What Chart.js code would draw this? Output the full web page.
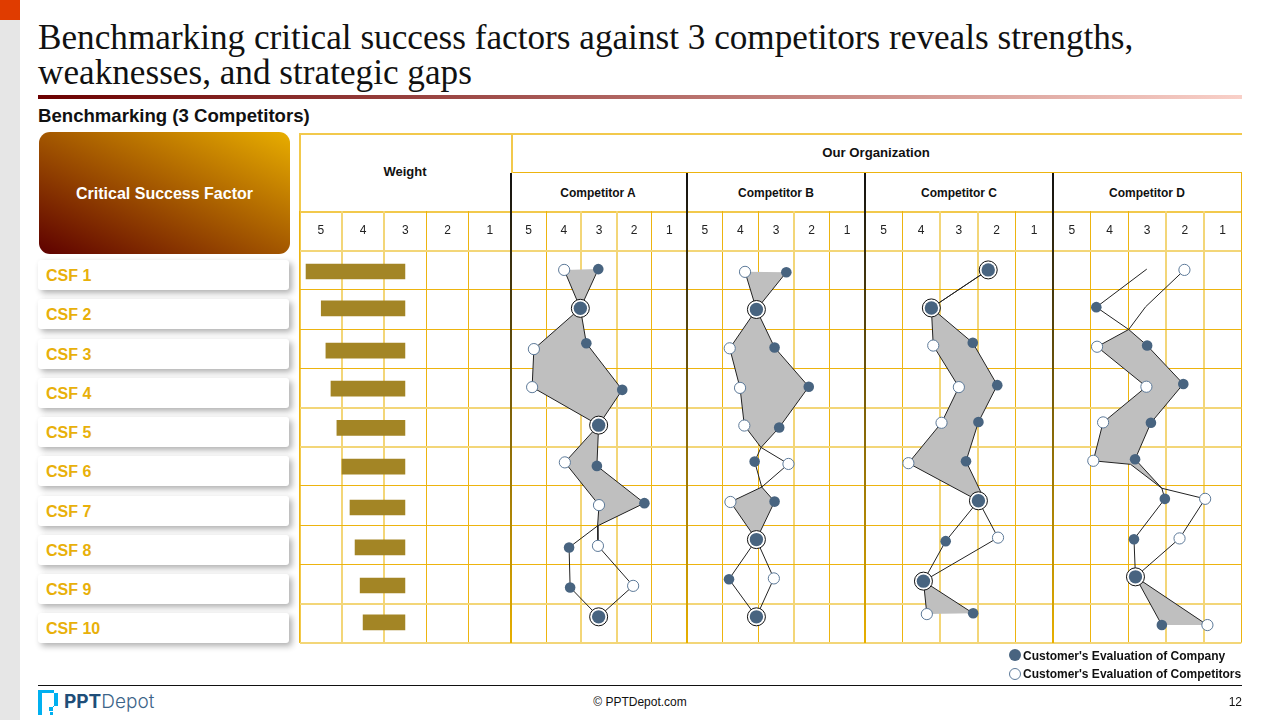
<!DOCTYPE html>
<html>
<head>
<meta charset="utf-8">
<script src="https://cdn.jsdelivr.net/npm/chart.js@4"></script>
<style>
  html, body { margin: 0; padding: 0; background: #fff; }
  body { position: relative; width: 1280px; height: 720px; overflow: hidden; font-family: "Liberation Sans", Arial, sans-serif; color: #111; }
  .abs { position: absolute; }
  .side { left: 0; top: 0; width: 20px; height: 720px; background: #e6e6e6; }
  .corner { left: 0; top: 0; width: 20px; height: 20px; background: #e03c00; }
  .title { left: 38px; top: 20px; width: 1210px; font: 35.2px/35px "Liberation Serif", serif; color: #111; white-space: nowrap; }
  .rule { left: 38px; top: 95px; width: 1204px; height: 4px; background: linear-gradient(90deg, #6b0000, #f9d0c8); }
  .sub { left: 38px; top: 105px; font: bold 18.6px/22px "Liberation Sans", sans-serif; }
  .csf-head { left: 39px; top: 132px; width: 251px; height: 122px; border-radius: 11px; background: linear-gradient(to top right, #5e0000, #e8ae00); color: #fff; font: bold 16px/124px "Liberation Sans", sans-serif; text-align: center; }
  .csf { left: 38px; width: 243px; height: 30px; padding-left: 8px; background: #fff; border-radius: 3px; box-shadow: 3px 3px 6px rgba(0,0,0,.32); color: #e8b00a; font: bold 16px/32px "Liberation Sans", sans-serif; }
  .head { font: bold 12px/16px "Liberation Sans", sans-serif; text-align: center; transform: translate(-50%, -50%); white-space: nowrap; }
  .gold { background: #edb40f; }
  .soft { background: #f2c94c; }
  .sep { width: 2px; background: linear-gradient(180deg, #111, #e8b000); }
  canvas { position: absolute; }
  .legend { font: bold 12px/14px "Liberation Sans", sans-serif; white-space: nowrap; }
  .dot { width: 12px; height: 12px; border-radius: 50%; box-sizing: border-box; }
</style>
</head>
<body>
<div class="abs side"></div>
<div class="abs corner"></div>
<div class="abs title">Benchmarking critical success factors against 3 competitors reveals strengths,<br>weaknesses, and strategic gaps</div>
<div class="abs rule"></div>
<div class="abs sub">Benchmarking (3 Competitors)</div>
<div class="abs csf-head">Critical Success Factor</div>
<div id="labels"></div>

<div class="abs soft" style="left:299px;top:133px;width:943px;height:2px"></div>
<div class="abs gold" style="left:511px;top:172px;width:731px;height:1px"></div>
<div class="abs soft" style="left:299px;top:211px;width:943px;height:2px"></div>
<div class="abs soft" style="left:299px;top:133px;width:2px;height:510px"></div>
<div class="abs soft" style="left:511px;top:133px;width:2px;height:40px"></div>
<div class="abs gold" style="left:1241px;top:172px;width:1px;height:40px"></div>

<div class="abs head" style="left:405px;top:172px;font-size:13px">Weight</div>
<div class="abs head" style="left:876px;top:153px;font-size:13.2px">Our Organization</div>
<div class="abs head" style="left:598px;top:192.5px">Competitor A</div>
<div class="abs head" style="left:776px;top:192.5px">Competitor B</div>
<div class="abs head" style="left:959px;top:192.5px">Competitor C</div>
<div class="abs head" style="left:1147px;top:192.5px">Competitor D</div>

<canvas id="weightChart"></canvas>
<canvas id="chartA"></canvas>
<canvas id="chartB"></canvas>
<canvas id="chartC"></canvas>
<canvas id="chartD"></canvas>

<div class="abs sep" style="left:510px;top:173px;height:470px"></div>
<div class="abs sep" style="left:686px;top:173px;height:470px"></div>
<div class="abs sep" style="left:864px;top:173px;height:470px"></div>
<div class="abs sep" style="left:1052px;top:173px;height:470px"></div>

<div class="abs dot" style="left:1009px;top:649px;background:#486480"></div>
<div class="abs legend" style="left:1023px;top:649px">Customer's Evaluation of Company</div>
<div class="abs dot" style="left:1009px;top:667.5px;background:#fff;border:1px solid #5d7a99"></div>
<div class="abs legend" style="left:1023px;top:667px">Customer's Evaluation of Competitors</div>

<div class="abs" style="left:38px;top:685px;width:1204px;height:1px;background:#111"></div>
<svg class="abs" style="left:38px;top:690px" width="20" height="25" viewBox="0 0 20 25">
  <path fill="#00b0f0" d="M0 0h16v3H4v22h8v-3h3v3H0z M16 3h4v13h-5v5h-4v-4h5z"/>
</svg>
<div class="abs" style="left:64px;top:691px;font:bold 19px/22px Inter,sans-serif;color:#1f4e79">PPT<span style="font-weight:300;color:#3c6488">Depot</span></div>
<div class="abs" style="left:540px;top:695px;width:200px;text-align:center;font-size:12px;line-height:15px">© PPTDepot.com</div>
<div class="abs" style="left:1142px;top:695px;width:100px;text-align:right;font-size:12px;line-height:15px">12</div>

<script>
// rows and weights
const csfLabels = ['CSF 1', 'CSF 2', 'CSF 3', 'CSF 4', 'CSF 5', 'CSF 6', 'CSF 7', 'CSF 8', 'CSF 9', 'CSF 10'];
const weightBase = 3.01;
const weightValues = [5.35, 4.99, 4.88, 4.76, 4.62, 4.5, 4.31, 4.19, 4.07, 4.0];
const weightRows = [1.03, 1.97, 3.05, 4.02, 5.02, 6.01, 7.05, 8.07, 9.04, 9.98];

// [score, row]
const aCompany = [[3.02, 0.97], [3.53, 1.97], [3.36, 2.86], [2.34, 4.05], [3.01, 4.95], [3.06, 5.99], [1.71, 6.94], [3.85, 8.07], [3.82, 9.09], [3.01, 9.84]];
const aRival = [[3.99, 0.99], [3.53, 1.97], [4.85, 3.01], [4.90, 3.98], [3.01, 4.95], [3.97, 5.90], [3.00, 6.99], [3.03, 8.03], [2.03, 9.05], [3.01, 9.84]];
const aJoins = [[3.04, 7.52]];
const aShade = [[1, 2], [2, 5], [5, 7.52]];

const bCompany = [[2.71, 1.05], [3.55, 2.00], [3.04, 2.97], [2.08, 3.97], [2.91, 5.01], [3.60, 5.88], [3.04, 6.90], [3.55, 7.87], [4.32, 8.88], [3.55, 9.84]];
const bRival = [[3.87, 1.04], [3.55, 2.00], [4.30, 2.99], [4.01, 4.00], [3.89, 4.96], [2.65, 5.94], [4.28, 6.91], [3.55, 7.87], [3.06, 8.86], [3.55, 9.84]];
const bJoins = [[3.42, 5.52], [3.40, 6.53]];
const bShade = [[1, 2], [2, 5.52], [6.53, 8]];

const cCompany = [[2.22, 0.99], [3.73, 1.96], [2.63, 2.85], [1.98, 3.93], [2.48, 4.87], [2.81, 5.87], [2.48, 6.88], [3.35, 7.91], [3.94, 8.93], [2.62, 9.75]];
const cRival = [[2.22, 0.99], [3.73, 1.96], [3.68, 2.92], [3.00, 3.98], [3.46, 4.89], [4.34, 5.92], [2.48, 6.88], [1.96, 7.82], [3.94, 8.93], [3.85, 9.77]];
const cCompanyBends = [[2.42, 6.65]];
const cShade = [[2, 7], [9, 10]];

// D has no company dot on row 1 and no competitor dot on row 2
const dCompany = [[4.35, 1.94], [3.00, 2.92], [2.04, 3.90], [2.90, 4.89], [3.32, 5.82], [2.53, 6.83], [3.35, 7.86], [3.31, 8.82], [2.61, 10.05]];
const dRival = [[2.01, 0.99], [4.33, 2.95], [3.02, 3.97], [4.17, 4.88], [4.43, 5.86], [1.46, 6.83], [2.14, 7.84], [3.31, 8.82], [1.40, 10.05]];
const dJoins = [[3.49, 2.51], [2.61, 6.56]];
const dCompanyBends = [[3.01, 0.97]];
const dRivalBends = [[3.04, 1.93], [3.44, 5.95]];
const dShade = [[2.51, 6.56], [9, 10]];

// the grid is not even in the picture: some lines are wide and pale
const paleRowEdges = [0.5, 4.5, 5.5, 9.5, 10.5];

const GOLD = '#edb40f';
const PALE = '#f3d678';
const INK = '#222222';
const BLUE = '#486480';
const RING = '#111111';
const SHADE = '#bfbfbf';
const TOP = 209, HEAD = 39.7, GRID_TOP = 250.7, GRID_BOTTOM = 642.7;

document.getElementById('labels').innerHTML = csfLabels.map(function (t, i) {
    return '<div class="abs csf" style="top:' + (260 + i * 39.25) + 'px">' + t + '</div>';
}).join('');

function place(canvasId, x0, x1) {
    const left = Math.floor(x0) - 2;
    const right = Math.ceil(x1) + 2;
    const height = Math.ceil(GRID_BOTTOM) + 2 - TOP;
    const el = document.getElementById(canvasId);
    el.style.left = left + 'px';
    el.style.top = TOP + 'px';
    el.style.width = (right - left) + 'px';
    el.style.height = height + 'px';
    el.width = right - left;
    el.height = height;
    return {
        el: el,
        padding: { left: x0 - left, right: right - x1, top: GRID_TOP - HEAD - TOP, bottom: TOP + height - GRID_BOTTOM }
    };
}

// the scale also resolves grid options without a tick
function isPale(ctx, edges) {
    return !!ctx.tick && edges.indexOf(ctx.tick.value) >= 0;
}

// ticks every half: labels on the whole scores, grid lines on the half ones
function scoreAxis(paleEdges) {
    const lineColor = function (ctx) {
        if (!ctx.tick || ctx.tick.value % 1 === 0) return 'transparent';
        return isPale(ctx, paleEdges) ? PALE : GOLD;
    };
    return {
        type: 'linear',
        position: 'top',
        reverse: true,
        min: 0.5,
        max: 5.5,
        afterFit: function (scale) { scale.height = HEAD; },
        border: { display: false },
        grid: {
            tickLength: HEAD,
            color: lineColor,
            tickColor: lineColor,
            lineWidth: function (ctx) { return isPale(ctx, paleEdges) ? 2 : 1; }
        },
        ticks: {
            stepSize: 0.5,
            autoSkip: false,
            maxRotation: 0,
            padding: -27,
            color: '#222',
            font: { family: 'Liberation Sans', size: 12 },
            callback: function (v) { return v % 1 ? '' : String(v); }
        }
    };
}

function rowAxis() {
    return {
        type: 'linear',
        reverse: true,
        offset: false,
        min: 0.5,
        max: 10.5,
        afterBuildTicks: function (scale) {
            scale.ticks = csfLabels.map(function (t, i) { return { value: i + 0.5 }; }).concat([{ value: 10.5 }]);
        },
        afterFit: function (scale) { scale.width = 0; },
        border: { display: false },
        grid: {
            offset: false,
            drawTicks: false,
            color: function (ctx) { return isPale(ctx, paleRowEdges) ? PALE : GOLD; },
            lineWidth: function (ctx) { return isPale(ctx, paleRowEdges) ? 2 : 1; }
        },
        ticks: { display: false }
    };
}

function mergePath(points, extra) {
    return points.concat(extra).sort(function (p, q) { return p[1] - q[1]; })
        .map(function (p) { return { x: p[0], y: p[1] }; });
}

function renderWeight(canvasId, x0, x1, paleEdges) {
    const box = place(canvasId, x0, x1);
    new Chart(box.el, {
        type: 'bar',
        data: {
            datasets: [{
                data: weightValues.map(function (v, i) { return { x: [weightBase, v], y: weightRows[i] }; }),
                backgroundColor: '#a38525',
                barThickness: 15
            }]
        },
        options: {
            indexAxis: 'y',
            responsive: false,
            animation: false,
            layout: { padding: box.padding, autoPadding: false },
            plugins: { legend: { display: false }, tooltip: { enabled: false } },
            scales: { x: scoreAxis(paleEdges), y: rowAxis() }
        }
    });
}

function renderPanel(canvasId, x0, x1, paleEdges, company, rival, joins, shade, companyBends, rivalBends) {
    const box = place(canvasId, x0, x1);
    const companyPath = mergePath(company, joins.concat(companyBends || []));
    const rivalPath = mergePath(rival, joins.concat(rivalBends || []));

    const isRing = function (p) {
        return company.some(function (c) { return c[0] === p.x && c[1] === p.y; }) &&
            rival.some(function (r) { return r[0] === p.x && r[1] === p.y; });
    };
    const toPoint = function (p) { return { x: p[0], y: p[1] }; };

    const shapes = shade.map(function (range) {
        const inRange = function (p) { return p.y >= range[0] - 0.2 && p.y <= range[1] + 0.2; };
        return {
            data: companyPath.filter(inRange).concat(rivalPath.filter(inRange).reverse()),
            showLine: true,
            fill: 'shape',
            backgroundColor: SHADE,
            borderWidth: 0,
            pointRadius: 0,
            order: 5
        };
    });

    new Chart(box.el, {
        type: 'scatter',
        data: {
            datasets: shapes.concat([
                { data: companyPath, showLine: true, borderColor: INK, borderWidth: 1, pointRadius: 0, order: 4 },
                { data: rivalPath, showLine: true, borderColor: INK, borderWidth: 1, pointRadius: 0, order: 3 },
                {
                    data: rival.map(toPoint),
                    backgroundColor: '#ffffff',
                    borderColor: function (ctx) { return isRing(ctx.raw) ? RING : '#5d7a99'; },
                    borderWidth: 1,
                    pointRadius: function (ctx) { return isRing(ctx.raw) ? 9 : 5.6; },
                    order: 2
                },
                {
                    data: company.map(toPoint),
                    backgroundColor: BLUE,
                    borderColor: BLUE,
                    borderWidth: 0,
                    pointRadius: function (ctx) { return isRing(ctx.raw) ? 6.7 : 5.3; },
                    order: 1
                }
            ])
        },
        options: {
            responsive: false,
            animation: false,
            layout: { padding: box.padding, autoPadding: false },
            plugins: { legend: { display: false }, tooltip: { enabled: false } },
            scales: { x: scoreAxis(paleEdges), y: rowAxis() }
        }
    });
}

renderWeight('weightChart', 299.7, 511, [4.5, 3.5]);
renderPanel('chartA', 511, 687, [3.5, 2.5], aCompany, aRival, aJoins, aShade);
renderPanel('chartB', 687, 865, [2.5], bCompany, bRival, bJoins, bShade);
renderPanel('chartC', 864.7, 1053, [3.5, 2.5], cCompany, cRival, [], cShade, cCompanyBends);
renderPanel('chartD', 1053, 1241.3, [2.5, 1.5], dCompany, dRival, dJoins, dShade, dCompanyBends, dRivalBends);
</script>
</body>
</html>
